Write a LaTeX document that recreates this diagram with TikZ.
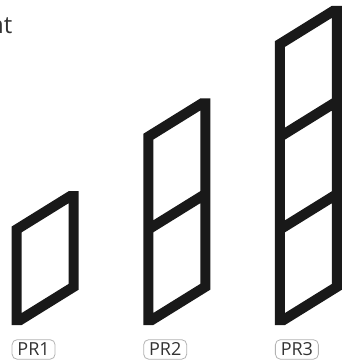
\documentclass[tikz,border=0pt]{standalone}
\usepackage{fontspec}
\setmainfont{Open Sans}
\begin{document}
\begin{tikzpicture}[x=1pt,y=-1pt,
  frame/.style={fill=black!90, even odd rule},
  tag/.style={draw=black!30, line width=0.8pt, rounded corners=5pt, minimum width=43pt, minimum height=19.5pt, inner sep=0pt, font=\fontsize{18}{18}\selectfont, text=black!80},
  title/.style={font=\fontsize{24}{24}\selectfont, text=black!80, inner sep=0pt}]
\useasboundingbox (0,0) rectangle (342,360);
\clip (0,0) rectangle (342,360);
\node[title, anchor=base east] (ttl) at (12.5,33) {nt};
\def\fw{10}\def\fs{0.62}\def\fp{92.7}\def\ft{12}
\foreach \a/\n/\lab in {11.7/1/PR1, 143.3/2/PR2, 275/3/PR3}{
  \pgfmathsetmacro\Li{\a+\fw}
  \pgfmathsetmacro\Ri{\a+57}
  \pgfmathsetmacro\Ro{\a+67}
  \pgfmathsetmacro\ytl{325-\n*\fp-\ft+\fw*\fs}
  \pgfmathsetmacro\ytr{325-\n*\fp-\ft-47*\fs}
  \pgfmathsetmacro\ybr{325-57*\fs}
  \path[frame] (\a,\ytl) -- (\Ri,\ytr) -- (\Ro,\ytr) -- (\Ro,\ybr) -- (\Li,325) -- (\a,325) -- cycle
    \foreach \k in {1,...,\n}{
      (\Li,{325-\k*\fp}) -- (\Ri,{325-\k*\fp-47*\fs}) -- (\Ri,{325-\ft-(\k-1)*\fp-47*\fs}) -- (\Li,{325-\ft-(\k-1)*\fp}) -- cycle
    };
  \node[tag, anchor=north west] (tag\n) at (\a,339.3) {\lab};
}
\end{tikzpicture}
\end{document}
